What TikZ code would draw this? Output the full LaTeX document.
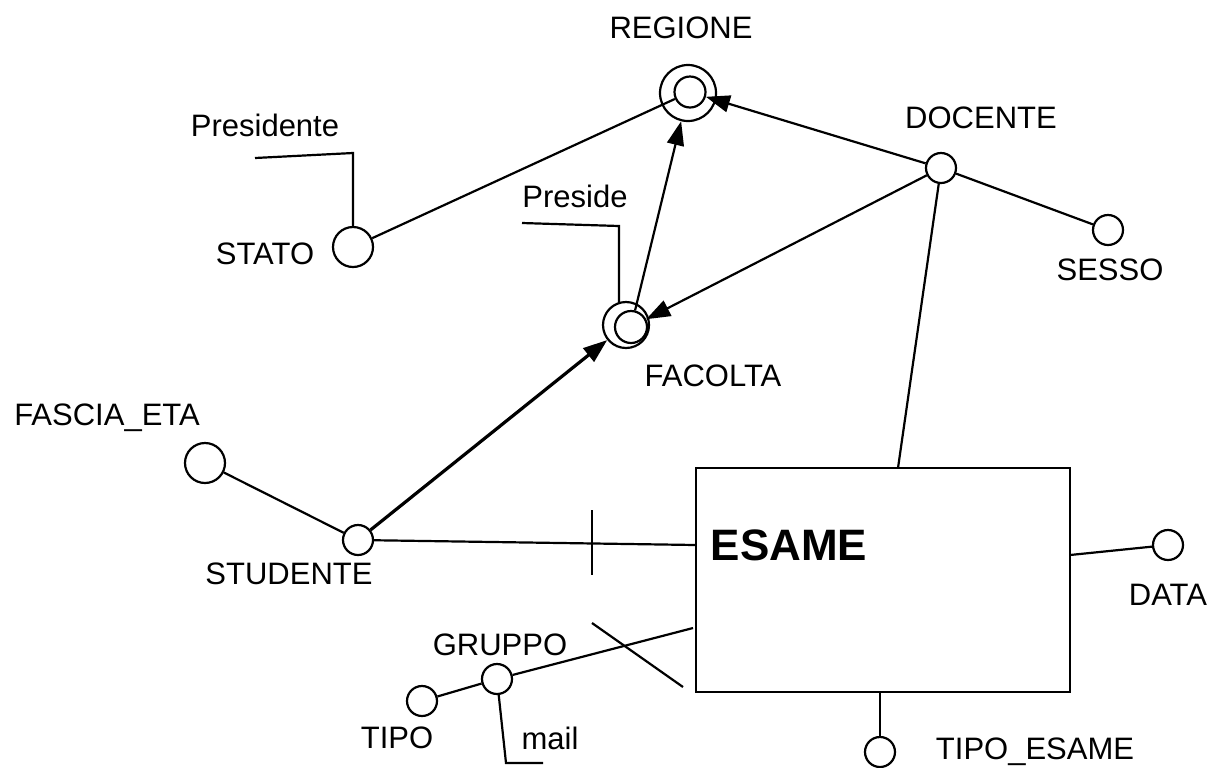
\documentclass[tikz,border=0pt]{standalone}
\usepackage{fontspec}
\setmainfont{Liberation Sans}
\usetikzlibrary{arrows.meta}

\tikzset{
  attr/.style={draw, circle, line width=1.1pt, inner sep=0pt, minimum size=15pt},
  bigattr/.style={attr, minimum size=20pt},
  lbl/.style={font=\fontsize{15.5}{18}\selectfont, inner sep=0pt},
  fk/.style={-{Triangle[length=12pt,width=8.5pt]}},
}

\begin{document}
\begin{tikzpicture}[x=0.5pt, y=-0.5pt, line width=1.1pt]
  \useasboundingbox (0,0) rectangle (1214,767);

  % Draw the fact box
  \node[draw, line width=1.1pt, minimum width=187pt, minimum height=112pt] (esame) at (883,580) {};
  \node[font=\fontsize{22}{26}\selectfont\bfseries, inner sep=0pt] (esamelbl) at (789,545) {ESAME};

  % Draw the attribute circles
  \node[attr, minimum size=28pt] (regout) at (688,93) {};
  \node[attr, minimum size=15.5pt] (regin) at (690,92) {};
  \node[attr, minimum size=23pt] (facout) at (626,325) {};
  \node[attr, minimum size=16pt] (facin) at (631,327) {};
  \node[bigattr] (stato) at (353,247) {};
  \node[bigattr] (fascia) at (205,463) {};
  \node[attr] (doc) at (941,168) {};
  \node[attr] (sesso) at (1108,230) {};
  \node[attr] (stu) at (358,540) {};
  \node[attr] (data) at (1168,545) {};
  \node[attr] (tipoes) at (880,752) {};
  \node[attr] (gruppo) at (497,679) {};
  \node[attr] (tipo) at (422,701) {};

  % Labels
  \node[lbl] (regl) at (681,28) {REGIONE};
  \node[lbl] (presl) at (265,125) {Presidente};
  \node[lbl] (docl) at (981,118) {DOCENTE};
  \node[lbl] (presidel) at (575,196) {Preside};
  \node[lbl] (statol) at (265,254) {STATO};
  \node[lbl] (sessol) at (1110,270) {SESSO};
  \node[lbl] (facl) at (713,376) {FACOLTA};
  \node[lbl] (fascial) at (107,418) {FASCIA\_ETA};
  \node[lbl] (stul) at (289,574) {STUDENTE};
  \node[lbl] (datal) at (1168,595) {DATA};
  \node[lbl] (gruppol) at (500,645) {GRUPPO};
  \node[lbl] (tipol) at (397,738) {TIPO};
  \node[lbl] (maill) at (550,738) {mail};
  \node[lbl] (tipoesl) at (1035,752) {TIPO\_ESAME};

  % Points on the box border
  \coordinate (eStu) at (696,545);
  \coordinate (eDoc) at (898,468);
  \coordinate (eGru) at (693,628);
  \coordinate (eData) at (1070,555);
  \coordinate (eTipo) at (880,692);

  % Non-dimensional attributes
  \coordinate (presEnd) at (255,158);
  \coordinate (presidEnd) at (522,223);
  \coordinate (mailEnd) at (543,763);
  \draw (presEnd) -- (353,153) -- (stato.center |- stato.north);
  \draw (presidEnd) -- (619,226) -- (619,303);
  \draw (gruppo) -- (506,763) -- (mailEnd);

  % Hierarchy arcs
  \draw (stato) -- (regin);
  \draw[fk] (facin) -- (regout);
  \draw[fk] (doc) -- (regin);
  \draw[fk] (doc) -- (facin);
  \draw[fk, line width=1.6pt] (stu) -- (facout);
  \draw (doc) -- (sesso);
  \draw (doc) -- (eDoc);
  \draw (fascia) -- (stu);
  \draw (stu) -- (eStu);
  \draw (592,510) -- (592,575);
  \draw (tipo) -- (gruppo);
  \draw (gruppo) -- (eGru);
  \draw (592,623) -- (683,687);
  \draw (eData) -- (data);
  \draw (eTipo) -- (tipoes);
\end{tikzpicture}
\end{document}
